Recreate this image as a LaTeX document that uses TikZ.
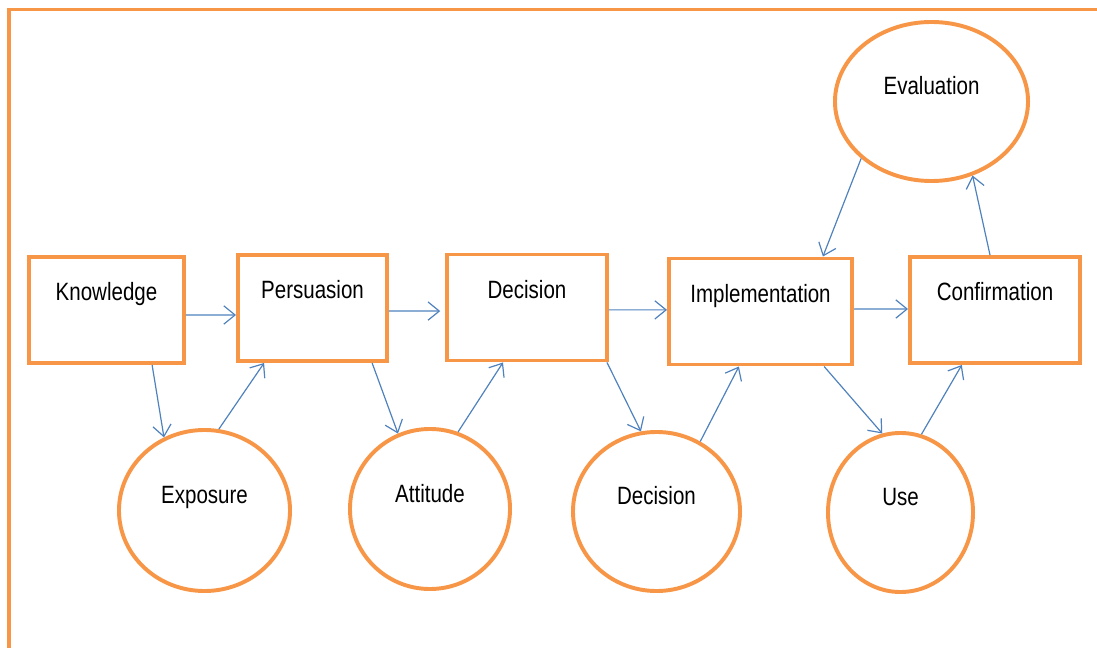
\documentclass[tikz,border=0pt]{standalone}
\usepackage{fontspec}
\setmainfont{Liberation Sans}[FakeStretch=0.82]
\usetikzlibrary{arrows.meta,shapes.geometric}
\definecolor{boxorange}{HTML}{F79646}
\definecolor{linkblue}{HTML}{4F81BD}

\begin{document}
\begin{tikzpicture}[x=0.025cm, y=-0.025cm,
    stage/.style={draw=boxorange, line width=2.8pt, inner ysep=0pt,
        text height=1.1cm, text depth=1.55cm, font=\fontsize{17.8}{20}\selectfont},
    phase/.style={ellipse, draw=boxorange, line width=2.8pt, inner sep=0pt,
        text height=0.45cm, text depth=0.8cm, font=\fontsize{17.8}{20}\selectfont},
    link/.style={draw=linkblue, line width=0.85pt, -{Straight Barb[length=8pt,width=13pt]}}]
    \useasboundingbox (0,0) rectangle (1097,648);

    % Outer frame
    \draw[boxorange, line width=2.6pt] (9,648) |- (1097,9.5);

    % Main stages
    \node[stage, minimum width=3.875cm] (know) at (106.5,310) {Knowledge};
    \node[stage, minimum width=3.725cm] (pers) at (312.5,308) {Persuasion};
    \node[stage, minimum width=4.0cm] (dec) at (527,307.5) {Decision};
    \node[stage, minimum width=4.575cm] (impl) at (760.5,311.5) {Implementation};
    \node[stage, minimum width=4.25cm] (conf) at (995,310) {Confirmation};

    % Sub-phases
    \node[phase, minimum width=4.275cm, minimum height=4.025cm] (expo) at (204.5,510.5) {Exposure};
    \node[phase, minimum width=4.0cm, minimum height=4.0cm] (att) at (430,509) {Attitude};
    \node[phase, minimum width=4.175cm, minimum height=3.975cm] (choice) at (656.5,511.5) {Decision};
    \node[phase, minimum width=3.625cm, minimum height=3.975cm] (use) at (900.5,512.5) {Use};
    \node[phase, minimum width=4.825cm, minimum height=3.975cm] (eval) at (931.5,101.5) {Evaluation};

    % Stage to stage
    \draw[link] ([yshift=-0.125cm]know.east) -- ([yshift=-0.175cm]pers.west);
    \draw[link] ([yshift=-0.075cm]pers.east) -- ([xshift=-0.12cm,yshift=-0.09cm]dec.west);
    \draw[link] ([yshift=-0.06cm]dec.east) -- ([yshift=0.04cm]impl.west);
    \draw[link] ([yshift=0.06cm]impl.east) -- ([yshift=0.025cm]conf.west);

    % Down to the phases and back up
    \draw[link] ([xshift=1.14cm]know.south) -- (expo.119);
    \draw[link] (expo.80) -- ([xshift=-1.21cm]pers.south);
    \draw[link] ([xshift=1.49cm]pers.south) -- (att.113);
    \draw[link] (att.70) -- ([xshift=-0.6cm]dec.south);
    \draw[link] ([xshift=2.0cm]dec.south) -- (choice.101);
    \draw[link] (choice.58) -- ([xshift=-0.54cm]impl.south);
    \draw[link] ([xshift=1.59cm]impl.south) -- (use.103);
    \draw[link] (use.75) -- ([xshift=-0.83cm]conf.south);

    % Evaluation loop
    \draw[link] ([xshift=-0.125cm]conf.north) -- (eval.-61.5);
    \draw[link] (eval.219) -- ([xshift=1.56cm]impl.north);
\end{tikzpicture}
\end{document}
